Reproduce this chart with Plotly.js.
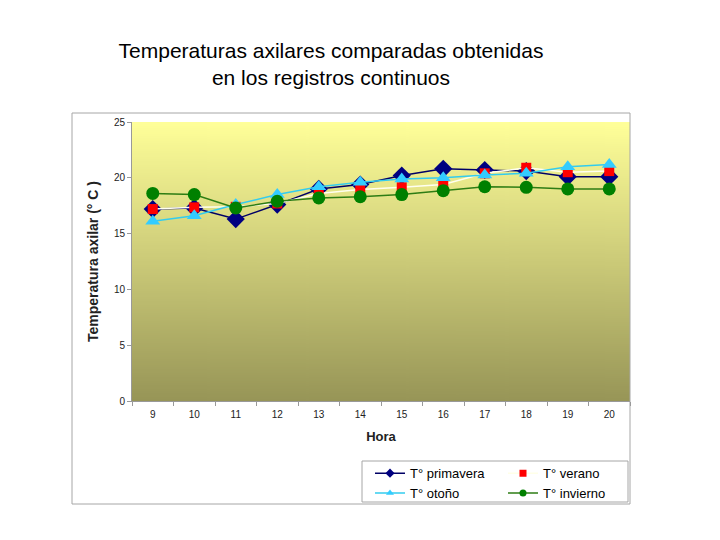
<!DOCTYPE html>
<html>
<head>
<meta charset="utf-8">
<script src="https://cdn.plot.ly/plotly-3.0.1.min.js"></script>
<style>html,body{margin:0;padding:0;background:#fff;}#chart{width:720px;height:540px;}</style>
</head>
<body>
<div id="chart"></div>
<script>
const horas = ['9','10','11','12','13','14','15','16','17','18','19','20'];
const primavera = [17.2, 17.3, 16.3, 17.6, 19.0, 19.4, 20.2, 20.8, 20.7, 20.6, 20.1, 20.1];
const verano    = [17.2, 17.35, 17.4, 17.7, 18.6, 18.95, 19.15, 19.4, 20.4, 20.9, 20.5, 20.6];
const otono     = [16.1, 16.6, 17.6, 18.5, 19.2, 19.6, 19.9, 20.0, 20.25, 20.4, 21.0, 21.2];
const invierno  = [18.6, 18.5, 17.3, 17.9, 18.2, 18.3, 18.5, 18.85, 19.2, 19.15, 19.0, 19.0];
const yTicks = [0, 5, 10, 15, 20, 25];

const FONT = 'Liberation Sans, Arial, sans-serif';

// gradient background for the plot area
const cv = document.createElement('canvas');
cv.width = 10; cv.height = 280;
const ctx = cv.getContext('2d');
const g = ctx.createLinearGradient(0, 0, 0, 280);
g.addColorStop(0, '#FFFF99');
g.addColorStop(1, '#979557');
ctx.fillStyle = g;
ctx.fillRect(0, 0, 10, 280);
const bgURL = cv.toDataURL('image/png');

const styles = {
  primavera: {line: {color: '#000066', width: 1.5}, symbol: 'diamond', size: 14, mcolor: '#000080'},
  verano:    {line: {color: '#FFFFF0', width: 1.5}, symbol: 'square', size: 10, mcolor: '#FF0000'},
  otono:     {line: {color: '#33CCEE', width: 1.5}, symbol: 'triangle-up', size: 13, mcolor: '#33CCFF'},
  invierno:  {line: {color: '#2E7D14', width: 1.5}, symbol: 'circle', size: 13, mcolor: '#008000'}
};
const series = [
  ['T° primavera', primavera, styles.primavera, 'legend'],
  ['T° verano', verano, styles.verano, 'legend2'],
  ['T° otoño', otono, styles.otono, 'legend'],
  ['T° invierno', invierno, styles.invierno, 'legend2']
];

const traces = [];
series.forEach(([name, ys, st]) => {
  traces.push({x: horas, y: ys, name: name, type: 'scatter', mode: 'lines+markers',
    line: st.line, marker: {symbol: st.symbol, size: st.size, color: st.mcolor}, showlegend: false});
});
// legend entries (small markers, as in the reference legend)
series.forEach(([name, ys, st, lg]) => {
  traces.push({x: [null], y: [null], name: name, type: 'scatter', mode: 'lines+markers',
    line: {color: name === 'T° verano' ? '#FFFFE8' : st.line.color, width: 1.5},
    marker: {symbol: st.symbol, size: 7, color: st.mcolor},
    showlegend: true, legend: lg});
});

const legendCommon = {
  orientation: 'v', yref: 'paper', xanchor: 'left', yanchor: 'top', y: -0.205,
  bgcolor: 'rgba(0,0,0,0)', borderwidth: 0,
  font: {family: FONT, size: 13, color: '#000'}, tracegroupgap: 0
};

const layout = {
  width: 720, height: 540,
  paper_bgcolor: '#FFFFFF', plot_bgcolor: 'rgba(0,0,0,0)',
  margin: {l: 132, r: 90, t: 122, b: 139},
  showlegend: true,
  title: {
    text: 'Temperaturas axilares comparadas obtenidas<br>en los registros continuos',
    font: {family: FONT, size: 21, color: '#000'},
    xref: 'container', x: 331/720, xanchor: 'center',
    yref: 'container', y: 1 - 58/540, yanchor: 'top'
  },
  xaxis: {
    type: 'category', categoryorder: 'array', categoryarray: horas,
    range: [-0.5, 11.5], showgrid: false, zeroline: false,
    showline: true, linecolor: '#999999', linewidth: 1,
    ticks: 'outside', tickson: 'boundaries', ticklen: 4, tickcolor: '#999999',
    ticklabelstandoff: 4,
    tickfont: {family: FONT, size: 10, color: '#222'},
    title: {text: '<b>Hora</b>', font: {family: FONT, size: 13, color: '#222'}, standoff: 12}
  },
  yaxis: {
    range: [0, 25], tickvals: yTicks, ticktext: yTicks.map(String),
    showgrid: false, zeroline: false,
    showline: true, linecolor: '#999999', linewidth: 1,
    ticks: 'outside', ticklen: 4, tickcolor: '#999999',
    tickfont: {family: FONT, size: 10, color: '#222'},
    title: {text: '<b>Temperatura axilar (° C )</b>', font: {family: FONT, size: 14, color: '#222'}, standoff: 11}
  },
  legend: Object.assign({}, legendCommon, {x: (370-132)/498}),
  legend2: Object.assign({}, legendCommon, {x: (503-132)/498}),
  images: [{source: bgURL, xref: 'paper', yref: 'paper', x: 0, y: 1, sizex: 1, sizey: 1,
            sizing: 'stretch', layer: 'below'}],
  shapes: [
    {type: 'rect', xref: 'paper', yref: 'paper', x0: (72-132)/498, x1: (630-132)/498,
     y0: (401-504)/279, y1: (401-113)/279, line: {color: '#A6A6A6', width: 1}, layer: 'below'},
    {type: 'rect', xref: 'paper', yref: 'paper', x0: (362-132)/498, x1: (628-132)/498,
     y0: (401-502)/279, y1: (401-461)/279, line: {color: '#A6A6A6', width: 1}, layer: 'below'}
  ]
};

Plotly.newPlot('chart', traces, layout, {displayModeBar: false, staticPlot: true});
</script>
</body>
</html>
